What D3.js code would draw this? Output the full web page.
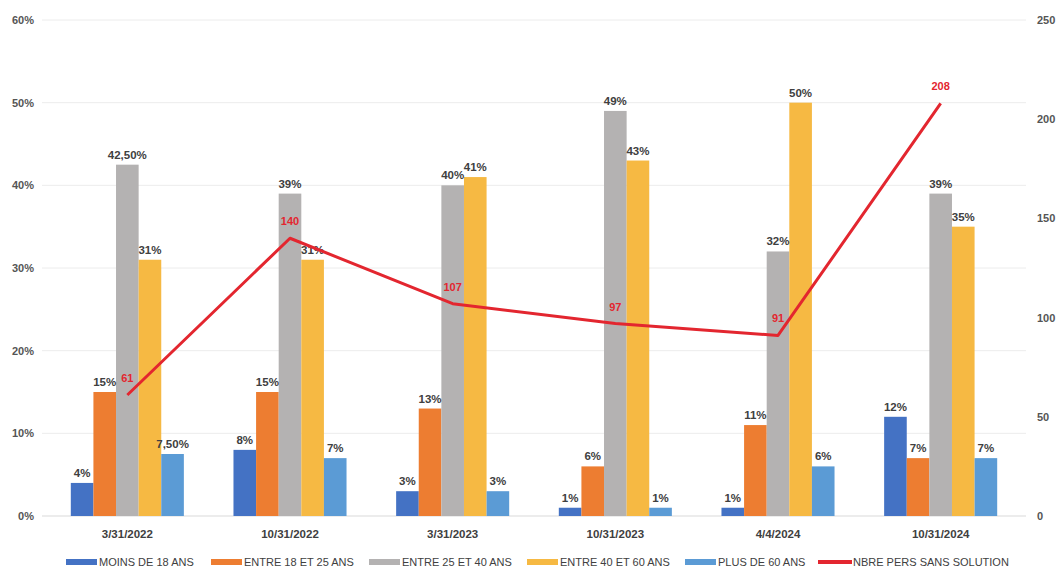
<!DOCTYPE html>
<html>
<head>
<meta charset="utf-8">
<script src="https://cdn.jsdelivr.net/npm/d3@7"></script>
<style>
  html, body { margin: 0; padding: 0; background: #fff; }
  svg { display: block; font-family: "Liberation Sans", Arial, sans-serif; }
</style>
</head>
<body>
<svg id="chart" width="1060" height="568"></svg>
<script>
// Survey dates (one group of bars per date)
const categories = ["3/31/2022", "10/31/2022", "3/31/2023", "10/31/2023", "4/4/2024", "10/31/2024"];

// Age-group shares, in percent
const moins18   = [4, 8, 3, 1, 1, 12];
const entre1825 = [15, 15, 13, 6, 11, 7];
const entre2540 = [42.5, 39, 40, 49, 32, 39];
const entre4060 = [31, 31, 41, 43, 50, 35];
const plus60    = [7.5, 7, 3, 1, 6, 7];

// Number of people without a solution (right axis)
const sansSolution = [61, 140, 107, 97, 91, 208];

const seriesNames = ["MOINS DE 18 ANS", "ENTRE 18 ET 25 ANS", "ENTRE 25 ET 40 ANS", "ENTRE 40 ET 60 ANS", "PLUS DE 60 ANS"];
const lineName = "NBRE PERS SANS SOLUTION";

const leftTicks = [0, 10, 20, 30, 40, 50, 60];
const rightTicks = [0, 50, 100, 150, 200, 250];

const barSeries = [moins18, entre1825, entre2540, entre4060, plus60];
const barColors = ["#4472c4", "#ed7d31", "#b4b2b2", "#f6b943", "#5b9bd5"];
const lineColor = "#e3262f";

const svg = d3.select("#chart");
const plot = { left: 46, right: 1022, top: 20, bottom: 516 };

const x0 = d3.scaleBand()
  .domain(categories)
  .range([plot.left, plot.right])
  .paddingInner(0.305)
  .paddingOuter(0.1525);

const x1 = d3.scaleBand()
  .domain(d3.range(barSeries.length))
  .range([0, x0.bandwidth()]);

const yL = d3.scaleLinear().domain([0, 60]).range([plot.bottom, plot.top]);
const yR = d3.scaleLinear().domain([0, 250]).range([plot.bottom, plot.top]);

const fmtPct = v => (Number.isInteger(v) ? String(v) : v.toFixed(2).replace(".", ",")) + "%";

// Horizontal gridlines
svg.append("g")
  .selectAll("line")
  .data(leftTicks)
  .join("line")
  .attr("x1", 42).attr("x2", 1026)
  .attr("y1", d => yL(d)).attr("y2", d => yL(d))
  .attr("stroke", d => d === 0 ? "#d9d9d9" : "#ececec")
  .attr("stroke-width", 1);

// Left axis (percent)
const axisL = d3.axisLeft(yL).tickValues(leftTicks).tickFormat(d => d + "%").tickSize(0).tickPadding(0);
svg.append("g")
  .attr("transform", "translate(34,0)")
  .call(axisL)
  .call(g => g.select(".domain").remove())
  .call(g => g.selectAll("text")
    .attr("font-family", "'Liberation Sans', Arial, sans-serif")
    .attr("font-size", 11).attr("font-weight", "bold").attr("fill", "#555"));

// Right axis (count)
const axisR = d3.axisRight(yR).tickValues(rightTicks).tickSize(0).tickPadding(0);
svg.append("g")
  .attr("transform", "translate(1037,0)")
  .call(axisR)
  .call(g => g.select(".domain").remove())
  .call(g => g.selectAll("text")
    .attr("font-family", "'Liberation Sans', Arial, sans-serif")
    .attr("font-size", 11).attr("font-weight", "bold").attr("fill", "#555"));

// Category labels
const axisB = d3.axisBottom(x0).tickSize(0).tickPadding(0);
svg.append("g")
  .attr("transform", `translate(0,${plot.bottom + 14})`)
  .call(axisB)
  .call(g => g.select(".domain").remove())
  .call(g => g.selectAll("text")
    .attr("font-family", "'Liberation Sans', Arial, sans-serif")
    .attr("font-size", 11.5).attr("font-weight", "bold").attr("fill", "#404040"));

// Bars grouped per date
const groups = svg.append("g")
  .selectAll("g")
  .data(categories)
  .join("g")
  .attr("transform", d => `translate(${x0(d)},0)`);

groups.selectAll("rect")
  .data((c, ci) => barSeries.map((s, si) => ({ si, v: s[ci] })))
  .join("rect")
  .attr("x", d => x1(d.si))
  .attr("width", x1.bandwidth())
  .attr("y", d => yL(d.v))
  .attr("height", d => yL(0) - yL(d.v))
  .attr("fill", d => barColors[d.si]);

groups.selectAll("text")
  .data((c, ci) => barSeries.map((s, si) => ({ si, v: s[ci] })))
  .join("text")
  .attr("x", d => x1(d.si) + x1.bandwidth() / 2)
  .attr("y", d => yL(d.v) - 6)
  .attr("text-anchor", "middle")
  .attr("font-size", 11.5)
  .attr("font-weight", "bold")
  .attr("fill", "#404040")
  .text(d => fmtPct(d.v));

// Line: people without a solution
const cx = c => x0(c) + x0.bandwidth() / 2;
const line = d3.line()
  .x((d, i) => cx(categories[i]))
  .y(d => yR(d));

svg.append("path")
  .datum(sansSolution)
  .attr("d", line)
  .attr("fill", "none")
  .attr("stroke", lineColor)
  .attr("stroke-width", 3)
  .attr("stroke-linejoin", "round");

svg.append("g")
  .selectAll("text")
  .data(sansSolution)
  .join("text")
  .attr("x", (d, i) => cx(categories[i]))
  .attr("y", d => yR(d) - 13)
  .attr("text-anchor", "middle")
  .attr("font-size", 11)
  .attr("font-weight", "bold")
  .attr("fill", lineColor)
  .text(d => d);

// Legend
const legendItems = seriesNames.map((n, i) => ({ name: n, color: barColors[i], type: "bar" }))
  .concat([{ name: lineName, color: lineColor, type: "line" }]);
const legendX = [66, 211, 369, 527, 685, 818];
const legend = svg.append("g");
legendItems.forEach((d, i) => {
  const g = legend.append("g").attr("transform", `translate(${legendX[i]},562)`);
  if (d.type === "bar") {
    g.append("rect").attr("x", 0).attr("y", -3).attr("width", 31).attr("height", 6).attr("fill", d.color);
  } else {
    g.append("line").attr("x1", 0).attr("x2", 34).attr("y1", 0).attr("y2", 0)
      .attr("stroke", d.color).attr("stroke-width", 4);
  }
  g.append("text")
    .attr("x", d.type === "bar" ? 33 : 35)
    .attr("y", 4)
    .attr("font-size", 11)
    .attr("fill", "#404040")
    .text(d.name);
});
</script>
</body>
</html>
